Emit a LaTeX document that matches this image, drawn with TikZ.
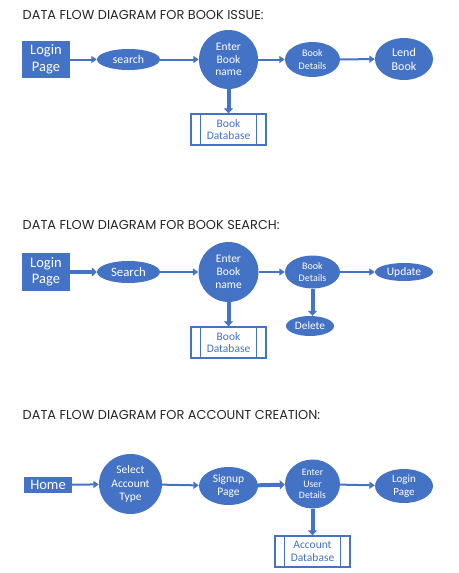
\documentclass[tikz,border=0pt]{standalone}
\usepackage{fontspec}
\setmainfont{Carlito}
\newfontfamily\titlefont{Poppins}
\usepackage{tikz}
\usetikzlibrary{arrows.meta,shapes.geometric}
\definecolor{dfdblue}{HTML}{4472C4}
\tikzset{
  proc/.style={ellipse,fill=dfdblue,text=white,inner sep=0pt,align=center},
  ent/.style={rectangle,fill=dfdblue,text=white,inner sep=0pt,align=center},
  store/.style={rectangle,draw=dfdblue,line width=1.3pt,fill=white,text=dfdblue,inner sep=0pt,align=center,minimum width=75pt,minimum height=31pt,font=\fontsize{11.5}{12.8}\selectfont},
  flow/.style={draw=dfdblue,line width=2pt,-{Triangle[length=5.5pt,width=7pt]}},
  bigflow/.style={draw=dfdblue,line width=4pt,-{Triangle[length=5pt,width=9pt]}},
  heading/.style={anchor=west,inner sep=0pt,font=\titlefont\fontsize{12.9}{14}\selectfont,text=black!85}
}
\newcommand{\storebars}[1]{%
  \draw[dfdblue,line width=1.3pt] ([xshift=10pt]#1.north west) -- ([xshift=10pt]#1.south west);
  \draw[dfdblue,line width=1.3pt] ([xshift=-10pt]#1.north east) -- ([xshift=-10pt]#1.south east);}

\begin{document}
\begin{tikzpicture}[x=1pt,y=-1pt]
		\useasboundingbox (0,0) rectangle (458,573);
		%%%%% BOOK ISSUE %%%%%
		\node[heading] (titleA) at (22.5,15) {DATA FLOW DIAGRAM FOR BOOK ISSUE:};
		\node[ent,minimum width=48pt,minimum height=37pt,font=\fontsize{14.5}{16.5}\selectfont] (loginA) at (46,59.5) {Login\\Page};
		\node[proc,minimum width=63pt,minimum height=21pt,font=\fontsize{11.8}{13}\selectfont] (searchA) at (128.5,59.5) {search};
		\node[proc,minimum width=59pt,minimum height=59pt,font=\fontsize{11.5}{12.8}\selectfont] (enterA) at (228.5,59.5) {Enter\\Book\\name};
		\node[proc,minimum width=55pt,minimum height=35pt,font=\fontsize{10}{12.3}\selectfont] (detailsA) at (312.5,59.5) {Book\\Details};
		\node[proc,minimum width=58pt,minimum height=42pt,font=\fontsize{12}{13.8}\selectfont] (lendA) at (404,59) {Lend\\Book};
		\node[store] (dbA) at (228.5,129.5) {Book\\Database};
		\storebars{dbA}
		\draw[flow] (loginA) -- (searchA);
		\draw[flow] (searchA) -- (enterA);
		\draw[flow] (enterA) -- (detailsA);
		\draw[flow] (detailsA) -- (lendA);
		\draw[bigflow] (enterA) -- (dbA);
		
		%%%%% BOOK SEARCH %%%%%
		\node[heading] (titleB) at (22.5,225) {DATA FLOW DIAGRAM FOR BOOK SEARCH:};
		\node[ent,minimum width=48pt,minimum height=38pt,font=\fontsize{14.5}{16.5}\selectfont] (loginB) at (46,272) {Login\\Page};
		\node[proc,minimum width=63pt,minimum height=22pt,font=\fontsize{12.8}{14}\selectfont] (searchB) at (128.5,272) {Search};
		\node[proc,minimum width=60pt,minimum height=60pt,font=\fontsize{11.5}{12.8}\selectfont] (enterB) at (228.5,272) {Enter\\Book\\name};
		\node[proc,minimum width=55pt,minimum height=33pt,font=\fontsize{10}{12.3}\selectfont] (detailsB) at (312.5,272) {Book\\Details};
		\node[proc,minimum width=58pt,minimum height=18pt,font=\fontsize{11.5}{13}\selectfont] (updateB) at (404,272) {Update};
		\node[proc,minimum width=48pt,minimum height=20pt,font=\fontsize{11.3}{13}\selectfont] (deleteB) at (310,326) {Delete};
		\node[store] (dbB) at (228.5,342.5) {Book\\Database};
		\storebars{dbB}
		\draw[bigflow] (loginB) -- (searchB);
		\draw[flow] (searchB) -- (enterB);
		\draw[flow] (enterB) -- (detailsB);
		\draw[flow] (detailsB) -- (updateB);
		\draw[bigflow] (enterB) -- (dbB);
		\draw[bigflow] (detailsB.south) -- (detailsB.south |- deleteB.north);
		
		%%%%% ACCOUNT CREATION %%%%%
		\node[heading] (titleC) at (22.5,415) {DATA FLOW DIAGRAM FOR ACCOUNT CREATION:};
		\node[ent,minimum width=48pt,minimum height=16pt,font=\fontsize{14.5}{16.5}\selectfont] (homeC) at (48,485) {Home};
		\node[proc,minimum width=63pt,minimum height=60pt,font=\fontsize{11.5}{13.3}\selectfont] (typeC) at (130.5,484) {Select\\Account\\Type};
		\node[proc,minimum width=59pt,minimum height=38pt,font=\fontsize{11.5}{13.3}\selectfont] (signupC) at (228.5,486) {Signup\\Page};
		\node[proc,minimum width=55pt,minimum height=49pt,font=\fontsize{9.8}{11.7}\selectfont] (userC) at (312.5,484) {Enter\\User\\Details};
		\node[proc,minimum width=58pt,minimum height=34pt,font=\fontsize{11}{13.3}\selectfont] (loginC) at (404,486) {Login\\Page};
		\node[store] (dbC) at (312.5,551.5) {Account\\Database};
		\storebars{dbC}
		\draw[flow] (homeC) -- (typeC);
		\draw[flow] (typeC) -- (signupC);
		\draw[bigflow] (signupC) -- (userC);
		\draw[flow] (userC) -- (loginC);
		\draw[bigflow] (userC) -- (dbC);
	\end{tikzpicture}
\end{document}
